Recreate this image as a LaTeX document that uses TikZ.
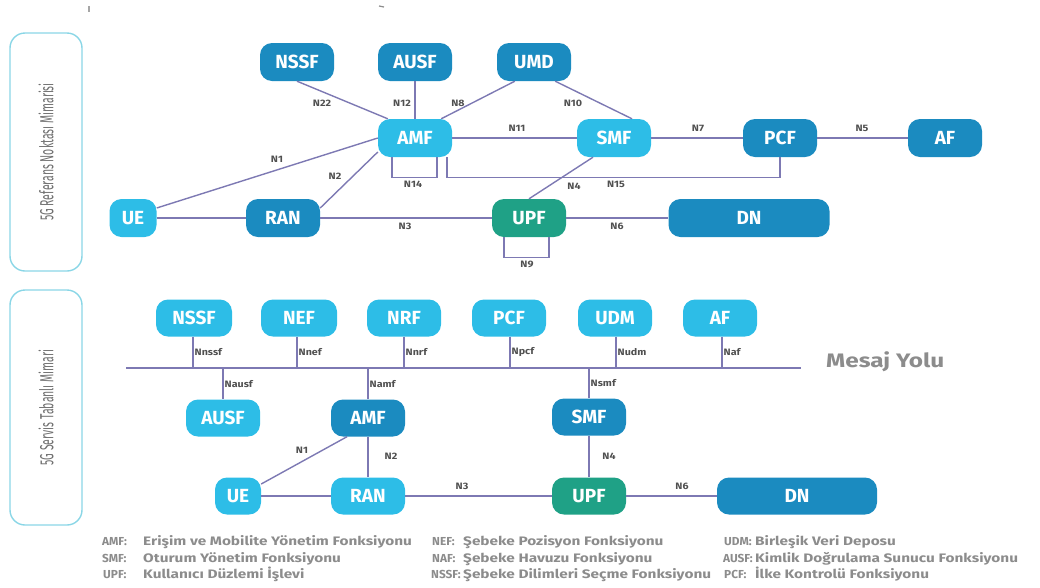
\documentclass[tikz,border=0pt]{standalone}
\usepackage{fontspec}
\setmainfont{Fira Sans}
\newfontfamily\legendfont[FakeStretch=1.25]{Fira Sans}
\newfontfamily\keyfont[FakeStretch=1.02]{Fira Sans}
\newfontfamily\sidefont[FakeStretch=0.55]{Fira Sans}
\newfontfamily\lblfont[FakeStretch=1.15]{Fira Sans}
\newfontfamily\busfont[FakeStretch=1.25]{Fira Sans}

\definecolor{nfdark}{HTML}{1B8BC0}
\definecolor{nflight}{HTML}{2DBDE7}
\definecolor{nfgreen}{HTML}{1FA186}
\definecolor{wirecol}{HTML}{7D79B3}
\definecolor{framecol}{HTML}{8AD6E6}
\definecolor{lblcol}{HTML}{505050}
\definecolor{legcol}{HTML}{8C8C8C}
\definecolor{sidecol}{HTML}{707070}

\tikzset{
  nf/.style={rounded corners=12pt, minimum width=74pt, minimum height=38pt,
    inner sep=0pt, text=white, font=\bfseries\fontsize{19}{19}\selectfont},
  dk/.style={nf, fill=nfdark},
  lt/.style={nf, fill=nflight},
  gr/.style={nf, fill=nfgreen},
  wire/.style={draw=wirecol, line width=1.4pt},
  lbl/.style={font=\lblfont\bfseries\fontsize{9.3}{10}\selectfont, text=lblcol, inner sep=1pt},
  sidebox/.style={draw=framecol, line width=1.4pt, rounded corners=15pt, rotate=90,
    minimum height=72pt, inner sep=0pt, text=sidecol,
    font=\sidefont\fontsize{19}{19}\selectfont},
  leg/.style={font=\legendfont\bfseries\fontsize{12.3}{13}\selectfont, text=legcol,
    anchor=base west, inner sep=0pt},
  legkey/.style={font=\keyfont\bfseries\fontsize{11.6}{12}\selectfont, text=legcol,
    anchor=base west, inner sep=0pt}
}

\begin{document}
\begin{tikzpicture}[x=1pt, y=-1pt]
\useasboundingbox (0,0) rectangle (1040,587);

% small marks along the top edge
\draw[black!35, line width=1.2pt] (89,6) -- (89,12);
\draw[black!45, line width=1.2pt] (379,6) -- (384,7);

% side captions
\node[sidebox, minimum width=238pt] (refcap) at (46,152) {5G Referans Noktası Mimarisi};
\node[sidebox, minimum width=235pt] (sbacap) at (46,407.5) {5G Servis Tabanlı Mimari};

% ---------------- reference point architecture ----------------
\node[dk] (nssf) at (297,62) {NSSF};
\node[dk] (ausf) at (415,62) {AUSF};
\node[dk] (umd)  at (534,62) {UMD};
\node[lt] (amf)  at (415,138) {AMF};
\node[lt] (smf)  at (614,138) {SMF};
\node[dk] (pcf)  at (780,138) {PCF};
\node[dk] (af)   at (945,138) {AF};
\node[lt, minimum width=47pt] (ue) at (133,218) {UE};
\node[dk] (ran)  at (283,218) {RAN};
\node[gr] (upf)  at (529,218) {UPF};
\node[dk, minimum width=161pt] (dn) at (749,218) {DN};

\draw[wire] (nssf.south) -- ([xshift=10pt]amf.north west);
\draw[wire] (ausf) -- (amf);
\draw[wire] ([xshift=18pt]umd.south west) -- ([xshift=-11pt]amf.north east);
\draw[wire] ([xshift=-16pt]umd.south east) -- ([xshift=18pt]smf.north);
\draw[wire] (amf) -- (smf);
\draw[wire] (smf) -- (pcf);
\draw[wire] (pcf) -- (af);
\draw[wire] ([yshift=10pt]ue.east) -- (amf.west);
\draw[wire] ([yshift=10pt]ran.east) -- ([yshift=-14pt]amf.west);
\draw[wire] (ue) -- (ran);
\draw[wire] (ran) -- (upf);
\draw[wire] (upf) -- (dn);
\draw[wire] ([xshift=-21pt]smf.south) -- (upf.north);
\draw[wire] ([xshift=-23pt]amf.south) -- ++(0,20) -| ([xshift=22pt]amf.south);
\draw[wire] ([xshift=32pt]amf.south) -- ++(0,20) -| (pcf.south);
\draw[wire] ([xshift=-25pt]upf.south) -- ++(0,20) -| ([xshift=20pt]upf.south);

\node[lbl] (l22) at (322,103) {N22};
\node[lbl] (l12) at (402,103) {N12};
\node[lbl] (l8)  at (458,103) {N8};
\node[lbl] (l10) at (573,103) {N10};
\node[lbl] (l11) at (517,128) {N11};
\node[lbl] (l7)  at (698,128) {N7};
\node[lbl] (l5)  at (862,128) {N5};
\node[lbl] (l1)  at (277,159) {N1};
\node[lbl] (l2)  at (335,176) {N2};
\node[lbl] (l14) at (413,184) {N14};
\node[lbl] (l15) at (616,184) {N15};
\node[lbl] (l4)  at (574,186) {N4};
\node[lbl] (l3)  at (405,226) {N3};
\node[lbl] (l6)  at (617,226) {N6};
\node[lbl] (l9)  at (527,264) {N9};

% ---------------- service based architecture ----------------
\node[lt, minimum height=37pt, minimum width=76pt] (snssf) at (194,318) {NSSF};
\node[lt, minimum height=37pt, minimum width=76pt] (snef)  at (299,318) {NEF};
\node[lt, minimum height=37pt] (snrf)  at (404,318) {NRF};
\node[lt, minimum height=37pt] (spcf)  at (509,318) {PCF};
\node[lt, minimum height=37pt] (sudm)  at (615,318) {UDM};
\node[lt, minimum height=37pt] (saf)   at (720,318) {AF};
\node[lt, minimum height=37pt] (sausf) at (223,418) {AUSF};
\node[dk, minimum height=37pt] (samf)  at (368,418) {AMF};
\node[dk, minimum height=37pt] (ssmf)  at (589,417) {SMF};
\node[lt, minimum height=37pt, minimum width=46pt] (sue) at (238,496) {UE};
\node[lt, minimum height=37pt] (sran)  at (368,496) {RAN};
\node[gr, minimum height=37pt] (supf)  at (589,496) {UPF};
\node[dk, minimum height=37pt, minimum width=160pt] (sdn) at (797,496) {DN};

% message bus
\coordinate (busL) at (126,368);
\coordinate (busR) at (801,368);
\draw[wire] (busL) -- (busR);
\node[font=\busfont\bfseries\fontsize{19.5}{20}\selectfont, text=legcol, anchor=west, inner sep=0pt]
  (bus) at (826,362) {Mesaj Yolu};

\draw[wire] ([xshift=-1pt]snssf.south) -- node[lbl, right] {Nnssf} ([xshift=-1pt]snssf.south |- busL);
\draw[wire] ([xshift=-2pt]snef.south) -- node[lbl, right] {Nnef} ([xshift=-2pt]snef.south |- busL);
\draw[wire] (snrf.south) -- node[lbl, right] {Nnrf} (snrf.south |- busL);
\draw[wire] ([xshift=1pt]spcf.south) -- node[lbl, right] {Npcf} ([xshift=1pt]spcf.south |- busL);
\draw[wire] ([xshift=1pt]sudm.south) -- node[lbl, right] {Nudm} ([xshift=1pt]sudm.south |- busL);
\draw[wire] ([xshift=2pt]saf.south) -- node[lbl, right] {Naf} ([xshift=2pt]saf.south |- busL);
\draw[wire] (sausf.north |- busL) -- node[lbl, right] {Nausf} (sausf.north);
\draw[wire] (samf.north |- busL) -- node[lbl, right] {Namf} (samf.north);
\draw[wire] (ssmf.north |- busL) -- node[lbl, right] {Nsmf} (ssmf.north);

\draw[wire] ([xshift=-21pt]samf.south) -- ([yshift=12pt]sue.east);
\draw[wire] (samf) -- (sran);
\draw[wire] (sue) -- (sran);
\draw[wire] (sran) -- (supf);
\draw[wire] (ssmf) -- (supf);
\draw[wire] (supf) -- (sdn);

\node[lbl] (m1) at (302,450) {N1};
\node[lbl] (m2) at (391,456) {N2};
\node[lbl] (m3) at (462,486) {N3};
\node[lbl] (m4) at (609,456) {N4};
\node[lbl] (m6) at (682,486) {N6};

% ---------------- legend (base lines) ----------------
\node[legkey] (a1) at (102,545.5) {AMF:};
\node[leg] (b1) at (143,545.5) {Erişim ve Mobilite Yönetim Fonksiyonu};
\node[legkey] (a2) at (102,562.5) {SMF:};
\node[leg] (b2) at (143,562.5) {Oturum Yönetim Fonksiyonu};
\node[legkey] (a3) at (103,578.5) {UPF:};
\node[leg] (b3) at (143,578.5) {Kullanıcı Düzlemi İşlevi};
\node[legkey] (c1) at (432,545.5) {NEF:};
\node[leg] (d1) at (463,545.5) {Şebeke Pozisyon Fonksiyonu};
\node[legkey] (c2) at (432,562.5) {NAF:};
\node[leg] (d2) at (463,562.5) {Şebeke Havuzu Fonksiyonu};
\node[legkey] (c3) at (431,578.5) {NSSF:};
\node[leg] (d3) at (463,578.5) {Şebeke Dilimleri Seçme Fonksiyonu};
\node[legkey] (e1) at (724,545.5) {UDM:};
\node[leg] (f1) at (755,545.5) {Birleşik Veri Deposu};
\node[legkey] (e2) at (723,562.5) {AUSF:};
\node[leg] (f2) at (755,562.5) {Kimlik Doğrulama Sunucu Fonksiyonu};
\node[legkey] (e3) at (724,578.5) {PCF:};
\node[leg] (f3) at (755,578.5) {İlke Kontrolü Fonksiyonu};
\end{tikzpicture}
\end{document}
